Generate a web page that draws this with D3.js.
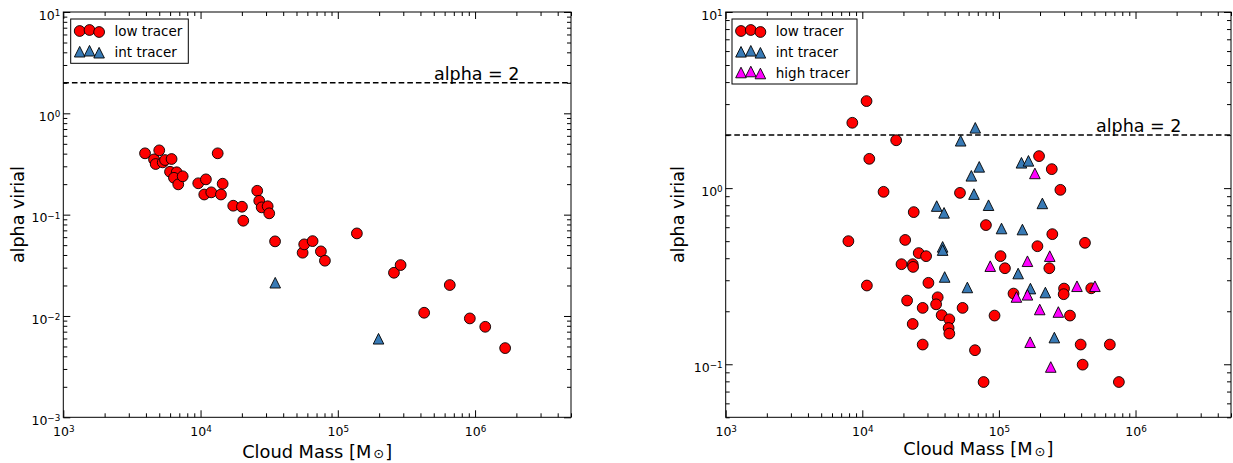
<!DOCTYPE html>
<html><head><meta charset="utf-8">
<script src="https://cdn.jsdelivr.net/npm/d3@7"></script>
<style>
body{margin:0;background:#fff}
svg text{font-family:"DejaVu Sans",sans-serif;fill:#000}
</style>
</head><body>
<svg id="chart" width="1233" height="463"></svg>
<script>
// ---------------- data ----------------
const seriesNames = ["low tracer", "int tracer", "high tracer"];
const seriesColors = ["#ff0000", "#387ab5", "#ff00ff"];

const leftLowMass = [3940,4580,5000,4710,5300,5510,6150,5990,6700,6400,6880,7410,9620,10940,10640,11970,13330,14490,14080,17300,20030,20470,25870,26770,27880,30820,31640,34900,55420,56900,65500,75300,80560,137700,256500,286700,654400,425700,916000,1186000,1656000];
const leftLowAlpha = [0.403,0.351,0.431,0.316,0.328,0.346,0.354,0.265,0.262,0.231,0.199,0.239,0.204,0.223,0.158,0.166,0.403,0.202,0.158,0.1225,0.1197,0.0871,0.172,0.137,0.118,0.121,0.103,0.0545,0.0421,0.0509,0.0548,0.0434,0.0351,0.0653,0.0267,0.0318,0.0202,0.01076,0.00946,0.00782,0.00482];
const leftIntMass = [35000, 198000];
const leftIntAlpha = [0.0213, 0.00596];

const rightLowMass = [8450,10740,17700,11250,14310,23800,51880,7910,20600,25880,29310,19360,23390,23540,10800,30480,21280,27670,35630,34700,54200,38100,43350,42850,43350,23390,27670,66800,196700,243800,281800,80350,246000,191400,426600,102800,110700,233900,127900,299800,298000,474200,92900,331300,396700,648600,410200,77240,755500];
const rightLowAlpha = [2.35,3.12,1.87,1.467,0.953,0.731,0.940,0.500,0.508,0.428,0.411,0.370,0.370,0.357,0.280,0.290,0.230,0.209,0.240,0.219,0.209,0.190,0.180,0.1607,0.1494,0.1694,0.1294,0.1202,1.520,1.282,0.978,0.617,0.548,0.468,0.489,0.411,0.351,0.351,0.252,0.269,0.250,0.270,0.189,0.189,0.1294,0.1294,0.0995,0.0793,0.0793];
const rightIntMass = [67140,52480,71780,62820,65690,35040,39680,38730,38730,40080,58750,83960,146200,164500,208000,104500,148600,138300,170100,218800,254600];
const rightIntAlpha = [2.20,1.858,1.321,1.175,0.925,0.791,0.724,0.464,0.445,0.313,0.273,0.800,1.393,1.429,0.819,0.590,0.582,0.3275,0.269,0.2555,0.1418];
const rightHighMass = [183400,86400,161800,235600,134300,161800,372800,504700,199000,272300,169200,239700];
const rightHighAlpha = [1.212,0.3606,0.3846,0.411,0.241,0.248,0.2773,0.2773,0.2047,0.198,0.1334,0.0965];

const xDomain = [1e3, 5e6];
const xTickExps = [3, 4, 5, 6];
const leftYDomain = [1e-3, 10];
const leftYTickExps = [-3, -2, -1, 0, 1];
const rightYDomain = [0.05, 10];
const rightYTickExps = [-1, 0, 1];
const alphaLine = 2;
const alphaLabel = "alpha = 2";
const xTitle = "Cloud Mass [M";
const xTitleSub = "\u2299";
const yTitle = "alpha virial";

// ---------------- drawing ----------------
const svg = d3.select("#chart");
const FONT_TICK = 12.5, FONT_SUP = 8.8, FONT_LABEL = 17.8, FONT_LEG = 13.5;

function triPath(s) {
  return `M0,${-s}L${-s},${s}L${s},${s}Z`;
}
function drawMarker(g, kind, color, x, y) {
  if (kind === "circle") {
    g.append("circle").attr("cx", x).attr("cy", y).attr("r", 5.4)
      .attr("fill", color).attr("stroke", "#000").attr("stroke-width", 0.9);
  } else {
    g.append("path").attr("d", triPath(5.3)).attr("transform", `translate(${x},${y})`)
      .attr("fill", color).attr("stroke", "#000").attr("stroke-width", 0.9).attr("stroke-linejoin", "miter");
  }
}

function supLabels(sel) {
  sel.selectAll(".tick text").each(function(d) {
    const t = d3.select(this);
    const e = Math.round(Math.log10(d));
    t.text("10");
    t.append("tspan").attr("dy", "-0.42em").attr("font-size", FONT_SUP + "px")
      .text(e < 0 ? "\u2212" + (-e) : String(e));
  });
}

function panel(cfg) {
  const {x0, x1, y0, y1, yDomain, yTickExps, series, legendBox, legendRows, alphaX, alphaY, yTitleX, xTitleY} = cfg;
  const x = d3.scaleLog().domain(xDomain).range([x0, x1]);
  const y = d3.scaleLog().domain(yDomain).range([y1, y0]);
  const g = svg.append("g");

  const xMaj = xTickExps.map(e => Math.pow(10, e));
  const yMaj = yTickExps.map(e => Math.pow(10, e));
  const isMaj = v => Math.abs(Math.log10(v) - Math.round(Math.log10(v))) < 1e-9;
  const xMin = x.ticks().filter(v => !isMaj(v));
  const yMin = y.ticks().filter(v => !isMaj(v));

  const axStyle = a => a.call(s => s.select(".domain").remove())
    .call(s => s.selectAll(".tick line").attr("stroke", "#000").attr("stroke-width", 1));

  // bottom
  const gb = g.append("g").attr("transform", `translate(0,${y1})`)
    .call(d3.axisBottom(x).tickValues(xMaj).tickSize(-7).tickPadding(10))
    .call(axStyle);
  gb.selectAll(".tick text").attr("font-size", FONT_TICK + "px").attr("font-family", "DejaVu Sans");
  supLabels(gb);
  g.append("g").attr("transform", `translate(0,${y1})`)
    .call(d3.axisBottom(x).tickValues(xMin).tickSize(-4).tickFormat(""))
    .call(axStyle);
  // top
  g.append("g").attr("transform", `translate(0,${y0})`)
    .call(d3.axisTop(x).tickValues(xMaj).tickSize(-7).tickFormat("")).call(axStyle);
  g.append("g").attr("transform", `translate(0,${y0})`)
    .call(d3.axisTop(x).tickValues(xMin).tickSize(-4).tickFormat("")).call(axStyle);
  // left
  const gl = g.append("g").attr("transform", `translate(${x0},0)`)
    .call(d3.axisLeft(y).tickValues(yMaj).tickSize(-7).tickPadding(3))
    .call(axStyle);
  gl.selectAll(".tick text").attr("font-size", FONT_TICK + "px").attr("font-family", "DejaVu Sans").attr("dy", "0.58em");
  supLabels(gl);
  g.append("g").attr("transform", `translate(${x0},0)`)
    .call(d3.axisLeft(y).tickValues(yMin).tickSize(-4).tickFormat("")).call(axStyle);
  // right
  g.append("g").attr("transform", `translate(${x1},0)`)
    .call(d3.axisRight(y).tickValues(yMaj).tickSize(-7).tickFormat("")).call(axStyle);
  g.append("g").attr("transform", `translate(${x1},0)`)
    .call(d3.axisRight(y).tickValues(yMin).tickSize(-4).tickFormat("")).call(axStyle);

  // frame
  g.append("rect").attr("x", x0).attr("y", y0).attr("width", x1 - x0).attr("height", y1 - y0)
    .attr("fill", "none").attr("stroke", "#000").attr("stroke-width", 1);

  // alpha = 2 line
  g.append("line").attr("x1", x0).attr("x2", x1).attr("y1", y(alphaLine)).attr("y2", y(alphaLine))
    .attr("stroke", "#000").attr("stroke-width", 1.5).attr("stroke-dasharray", "5.6,3");
  g.append("text").attr("x", alphaX).attr("y", y(alphaLine) + alphaY)
    .attr("font-size", "17.5px").text(alphaLabel);

  // points
  const pg = g.append("g");
  series.forEach(s => {
    s.mass.forEach((m, i) => drawMarker(pg, s.kind, s.color, x(m), y(s.alpha[i])));
  });

  // legend
  g.append("rect").attr("x", legendBox[0]).attr("y", legendBox[1]).attr("width", legendBox[2]).attr("height", legendBox[3])
    .attr("fill", "#fff").attr("stroke", "#000").attr("stroke-width", 1);
  const mOff = [9, 18.8, 28.4], yOff = [0, -1, 1];
  series.forEach((s, k) => {
    const cy = legendRows[k];
    mOff.forEach((dx, j) => drawMarker(g, s.kind, s.color, legendBox[0] + dx, cy + yOff[j]));
    g.append("text").attr("x", legendBox[0] + 43.8).attr("y", cy + 5)
      .attr("font-size", FONT_LEG + "px").text(s.name);
  });

  // titles
  const xt = g.append("text").attr("x", (x0 + x1) / 2).attr("y", xTitleY).attr("text-anchor", "middle")
    .attr("font-size", FONT_LABEL + "px");
  xt.append("tspan").text(xTitle);
  xt.append("tspan").attr("font-size", "13px").attr("dx", "2").attr("dy", "0.5").text(xTitleSub);
  xt.append("tspan").attr("dx", "1").attr("dy", "-0.5").text("]");
  g.append("text").attr("transform", `translate(${yTitleX},${(y0 + y1) / 2}) rotate(-90)`)
    .attr("text-anchor", "middle").attr("font-size", "17.5px").text(yTitle);
}

panel({
  x0: 63.3, x1: 571, y0: 12, y1: 417.3,
  yDomain: leftYDomain, yTickExps: leftYTickExps,
  series: [
    {name: seriesNames[0], kind: "circle", color: seriesColors[0], mass: leftLowMass, alpha: leftLowAlpha},
    {name: seriesNames[1], kind: "tri", color: seriesColors[1], mass: leftIntMass, alpha: leftIntAlpha}
  ],
  legendBox: [70.7, 19, 117.6, 44.3], legendRows: [31, 51.7],
  alphaX: 434, alphaY: -2.7, yTitleX: 24, xTitleY: 457.5
});
panel({
  x0: 725.7, x1: 1231, y0: 12, y1: 417.3,
  yDomain: rightYDomain, yTickExps: rightYTickExps,
  series: [
    {name: seriesNames[0], kind: "circle", color: seriesColors[0], mass: rightLowMass, alpha: rightLowAlpha},
    {name: seriesNames[1], kind: "tri", color: seriesColors[1], mass: rightIntMass, alpha: rightIntAlpha},
    {name: seriesNames[2], kind: "tri", color: seriesColors[2], mass: rightHighMass, alpha: rightHighAlpha}
  ],
  legendBox: [732, 19, 125, 65], legendRows: [31, 51.8, 72.5],
  alphaX: 1096, alphaY: -3, yTitleX: 684, xTitleY: 455
});
</script>
</body></html>
